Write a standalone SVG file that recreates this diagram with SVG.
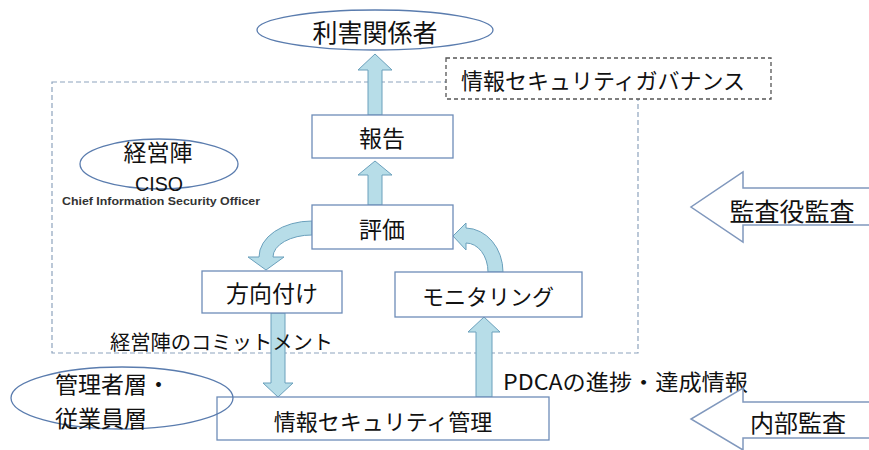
<svg xmlns="http://www.w3.org/2000/svg" width="869" height="450" viewBox="0 0 869 450">
<defs>
<style>
.jp{font-family:"Noto Sans CJK JP","Noto Sans",sans-serif;fill:#111;dominant-baseline:central}
.box{fill:#fff;stroke:#6e8db8;stroke-width:1.3}
.ell{stroke:#5a7cae;stroke-width:1.3}
.arr{fill:#b7dde8;stroke:#6aa0bc;stroke-width:1}
.big{fill:#fff;stroke:#8098bd;stroke-width:1.5}
</style>
</defs>
<rect width="869" height="450" fill="#fff"/>
<g id="governance-frame">
<rect x="52" y="82" width="586" height="271" fill="none" stroke="#8ea3bd" stroke-width="1.2" stroke-dasharray="5 3"/>
</g>
<g id="governance-label">
<rect x="446" y="58" width="325" height="41" fill="#fff" stroke="#555" stroke-width="1.3" stroke-dasharray="4 3"/>
<text class="jp" x="603" y="79" font-size="22" text-anchor="middle">情報セキュリティガバナンス</text>
</g>
<g id="connectors">
<path class="arr" d="M368,115 V70 H358 L375,54 L392,70 H382 V115 Z"/>
<path class="arr" d="M368,205 V175 H358 L375,161 L392,175 H382 V205 Z"/>
<path class="arr" d="M312,221 A53,36 0 0 0 259,257 H248 L266,270 L284,257 H273 A39,22 0 0 1 312,235 Z"/>
<path class="arr" d="M271,313 V383 H263 L278,397 L293,383 H285 V313 Z"/>
<path class="arr" d="M476,397 V332 H468 L484,317 L500,332 H492 V397 Z"/>
<path class="arr" d="M503,272 A38,44 0 0 0 466,228 V223 L453,236 L466,250 V243 A22,29 0 0 1 488,272 Z"/>
</g>
<g id="stakeholders">
<ellipse class="ell" cx="375" cy="30" rx="118" ry="20" fill="#fff"/>
<text class="jp" x="375" y="31" font-size="25" text-anchor="middle">利害関係者</text>
</g>
<g id="report">
<rect class="box" x="312" y="115" width="141" height="43"/>
<text class="jp" x="382" y="137" font-size="23" text-anchor="middle">報告</text>
</g>
<g id="evaluate">
<rect class="box" x="312" y="205" width="141" height="44"/>
<text class="jp" x="382" y="228" font-size="23" text-anchor="middle">評価</text>
</g>
<g id="direct">
<rect class="box" x="202" y="271" width="140" height="42"/>
<text class="jp" x="272" y="292" font-size="23" text-anchor="middle">方向付け</text>
</g>
<g id="monitor">
<rect class="box" x="395" y="272" width="187" height="45"/>
<text class="jp" x="488" y="295" font-size="22" text-anchor="middle">モニタリング</text>
</g>
<g id="management">
<rect class="box" x="217" y="397" width="332" height="43"/>
<text class="jp" x="383" y="420" font-size="22" text-anchor="middle">情報セキュリティ管理</text>
</g>
<g id="executives">
<ellipse class="ell" cx="159" cy="164" rx="79" ry="25" fill="none"/>
<text class="jp" x="158" y="151" font-size="23" text-anchor="middle">経営陣</text>
<text x="135" y="183" font-size="21" font-family="'Liberation Sans',Arial,sans-serif" fill="#111" dominant-baseline="central" textLength="48" lengthAdjust="spacingAndGlyphs">CISO</text>
<text x="62" y="201" font-size="11" font-weight="bold" font-family="'Liberation Sans',Arial,sans-serif" fill="#333" dominant-baseline="central" textLength="198" lengthAdjust="spacingAndGlyphs">Chief Information Security Officer</text>
</g>
<g id="staff">
<ellipse class="ell" cx="122" cy="398" rx="111" ry="31" fill="none"/>
<text class="jp" x="55" y="383" font-size="23">管理者層・</text>
<text class="jp" x="55" y="417" font-size="23">従業員層</text>
</g>
<g id="labels">
<text class="jp" x="110" y="341" font-size="20" textLength="223" lengthAdjust="spacingAndGlyphs">経営陣のコミットメント</text>
<text class="jp" x="503" y="380" font-size="22" textLength="245" lengthAdjust="spacingAndGlyphs">PDCAの進捗・達成情報</text>
</g>
<g id="auditor-audit">
<path class="big" d="M870,188 H743 V172 L691,207 L743,242 V225 H870"/>
<text class="jp" x="792" y="210" font-size="25" text-anchor="middle">監査役監査</text>
</g>
<g id="internal-audit">
<path class="big" d="M870,402 H743 V388 L691,419 L743,450 V438 H870"/>
<text class="jp" x="798" y="421" font-size="24" text-anchor="middle">内部監査</text>
</g>
</svg>
